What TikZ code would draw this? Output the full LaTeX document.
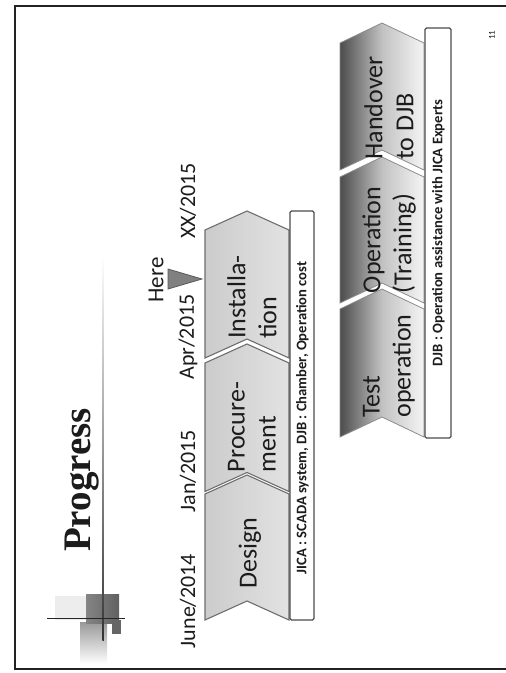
\documentclass[tikz,border=0pt]{standalone}
\usepackage{fontspec}
\setmainfont{Carlito}
\newfontfamily\titlefont{Liberation Serif}
\usetikzlibrary{calc}

\definecolor{ink}{HTML}{1C1C1C}
\definecolor{lightstep}{HTML}{D6D6D6}
\definecolor{stepline}{HTML}{6E6E6E}
\definecolor{frameline}{HTML}{222222}

\tikzset{
  lightchev/.style={draw=stepline, line width=1.1pt, left color=lightstep!95!black, right color=lightstep!70!white},
  darkchev/.style={draw=black!45, line width=0.8pt, left color=black!70, right color=white!96!black, middle color=black!24},
  steptext/.style={rotate=90, align=left, text=ink, font=\fontsize{26}{31}\selectfont, inner sep=0pt},
  datetext/.style={rotate=90, text=ink, font=\fontsize{22}{26}\selectfont, inner sep=0pt},
  notebox/.style={draw=black!70, line width=1.1pt, fill=white, rounded corners=1.5pt},
  notetext/.style={rotate=90, text=ink, font=\bfseries\fontsize{14.6}{17}\selectfont, inner sep=0pt},
}

% chevron pointing towards smaller y: #1 left x, #2 right x, #3 top edge y, #4 bottom edge y, #5 tip depth
\newcommand{\chevronpath}[5]{%
  (#1,#3) -- ({(#1+#2)/2},#3-#5) -- (#2,#3) -- (#2,#4) -- ({(#1+#2)/2},#4-#5) -- (#1,#4) -- cycle}

\begin{document}
\begin{tikzpicture}[x=1pt,y=-1pt]
\useasboundingbox (0,0) rectangle (506,673);
\fill[white] (0,0) rectangle (506,673);

% slide frame
\draw[frameline, line width=2.4pt] (540,6) -- (15,6) -- (15,669) -- (540,669);

% corner ornament
\fill[black!7] (55,596) rectangle (86,620);
\shade[top color=black!40, bottom color=white] (80,622) rectangle (107,664);
\shade[left color=black!48, right color=black!62] (86,594) rectangle (119,623);
\fill[black!60] (112,620) rectangle (121,634);
\shade[top color=white, bottom color=black!80] (102.4,255) rectangle (103.8,640);
\draw[black!85, line width=1pt] (47,618) -- (125,618);

% title
\node[rotate=90, anchor=base, text=ink, font=\titlefont\bfseries\fontsize{39}{44}\selectfont, inner sep=0pt]
  (title) at (90,480) {Progress};

% first row of steps
\path[lightchev] \chevronpath{205}{289}{230}{358}{19};
\path[lightchev] \chevronpath{205}{289}{363}{491.5}{19};
\path[lightchev] \chevronpath{205}{289}{494}{620}{19};

\node[steptext] (install) at (252,297) {Installa-\\tion};
\node[steptext] (procure) at (252,427) {Procure-\\ment};
\node[steptext] (design) at (250,553) {Design};

\draw[notebox] (290,211) rectangle (314,620);
\node[notetext] (jicanote) at (302.5,418) {JICA : SCADA system, DJB : Chamber, Operation cost};

% dates
\node[datetext] (d1) at (188,601) {June/2014};
\node[datetext] (d2) at (188,471) {Jan/2015};
\node[datetext] (d3) at (188,337) {Apr/2015};
\node[datetext] (d4) at (188,201) {XX/2015};

% current position marker
\node[rotate=90, text=ink, font=\fontsize{23}{27}\selectfont, inner sep=0pt] (here) at (156,280) {Here};
\coordinate (mk1) at (168,269);
\coordinate (mk2) at (168,289);
\coordinate (mk3) at (202,279);
\path[fill=black!50, draw=black!65, line width=0.8pt] (mk1) -- (mk3) -- (mk2) -- cycle;

% second row of steps
\path[darkchev] \chevronpath{340}{424}{43}{170}{20};
\path[darkchev] \chevronpath{340}{424}{177}{303}{20};
\path[darkchev] \chevronpath{340}{424}{309}{437}{20};

\node[steptext] (handover) at (389,108) {Handover\\to DJB};
\node[steptext] (operation) at (389,240) {Operation\\(Training)};
\node[steptext] (test) at (389,366) {Test\\operation};

\draw[notebox] (425,28) rectangle (451,438);
\node[notetext] (djbnote) at (438.5,233) {DJB : Operation assistance with JICA Experts};

% page number
\node[rotate=90, text=ink, font=\fontsize{9}{10}\selectfont, inner sep=0pt] (pagenum) at (492,35) {11};
\end{tikzpicture}
\end{document}
